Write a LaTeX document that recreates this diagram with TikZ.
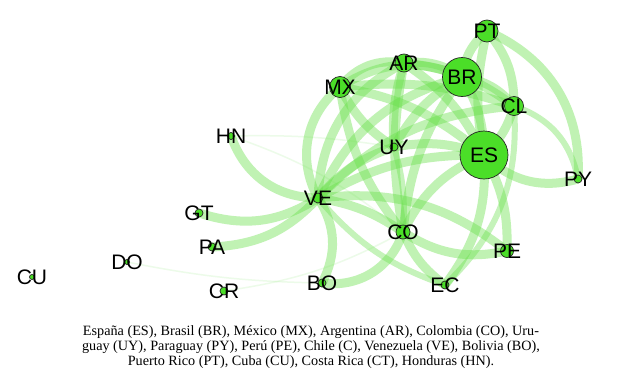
\documentclass[tikz,border=0pt]{standalone}
\usepackage{fontspec}
\setmainfont{Liberation Serif}
\newfontfamily\labfont{Liberation Sans}
\definecolor{nodegreen}{RGB}{75,222,40}
\definecolor{edgegreen}{RGB}{105,225,75}
\tikzset{
  country/.style={circle, draw=black!85, line width=0.7pt, fill=nodegreen, inner sep=0pt, minimum size=#1},
  lab/.style={font=\labfont\fontsize{21}{21}\selectfont, inner sep=0pt, text=black},
  edge/.style={draw=edgegreen, line width=9pt, opacity=0.42},
  thinedge/.style={draw=edgegreen, line width=6pt, opacity=0.38},
  faint/.style={draw=edgegreen, line width=1.5pt, opacity=0.12},
  caption/.style={font=\fontsize{14.2}{14.2}\selectfont, inner sep=0pt, anchor=base}
}
\begin{document}
\begin{tikzpicture}[x=1pt,y=1pt]
\useasboundingbox (0,0) rectangle (620,-375);
\fill[white] (0,0) rectangle (620,-375);
% positions
\coordinate (PT) at (487,-31);
\coordinate (AR) at (404,-63);
\coordinate (BR) at (462,-77);
\coordinate (MX) at (340,-87);
\coordinate (CL) at (514,-106);
\coordinate (UY) at (394,-147);
\coordinate (ES) at (484,-155);
\coordinate (PY) at (578,-179);
\coordinate (HN) at (231,-136);
\coordinate (VE) at (318,-198);
\coordinate (GT) at (199,-213);
\coordinate (PA) at (212,-247);
\coordinate (CO) at (403,-232);
\coordinate (PE) at (507,-251);
\coordinate (DO) at (127,-262);
\coordinate (CU) at (32,-277);
\coordinate (CR) at (224,-291);
\coordinate (BO) at (322,-283);
\coordinate (EC) at (445,-285);
% faint edges
\draw[faint] (HN) to[bend left=5] (UY);
\draw[faint] (DO) to[bend right=5] (BO);
\draw[faint] (CR) to[bend right=10] (CO);
\draw[faint] (HN) to[bend left=10] (CO);
% edges from VE
\draw[edge] (HN) to[bend right=35] (VE);
\draw[edge] (GT) to[bend right=25] (VE);
\draw[edge] (PA) to[bend right=22] (VE);
\draw[edge] (VE) to[bend left=30] (BO);
\draw[edge] (VE) to[bend left=40] (MX);
\draw[edge] (VE) to[bend left=30] (AR);
\draw[edge] (VE) to[bend left=25] (BR);
\draw[edge] (VE) to[bend left=20] (CL);
\draw[edge] (VE) to[bend left=15] (ES);
\draw[edge] (VE) to[bend left=15] (UY);
\draw[edge] (VE) to[bend left=12] (CO);
\draw[edge] (VE) to[bend left=22] (PE);
\draw[thinedge] (VE) to[bend right=15] (EC);
% bottom
\draw[edge] (BO) to[bend right=40] (CO);
\draw[edge] (CO) to[bend right=15] (EC);
\draw[edge] (CO) to[bend right=22] (PE);
\draw[edge] (EC) to[bend right=20] (ES);
\draw[edge] (PE) to[bend right=15] (ES);
\draw[thinedge] (EC) to[bend right=25] (CL);
\draw[edge] (CO) to[bend left=20] (ES);
\draw[edge] (CO) to[bend left=15] (MX);
\draw[edge] (CO) to[bend left=10] (AR);
\draw[edge] (CO) to[bend left=15] (BR);
\draw[thinedge] (CO) to[bend right=10] (UY);
% top cluster
\draw[edge] (MX) to[bend left=30] (AR);
\draw[edge] (MX) to[bend left=28] (BR);
\draw[edge] (MX) to[bend left=12] (CL);
\draw[edge] (MX) to[bend left=15] (ES);
\draw[edge] (MX) to[bend right=15] (UY);
\draw[edge] (AR) to[bend left=20] (BR);
\draw[edge] (AR) to[bend left=15] (CL);
\draw[edge] (AR) to[bend left=15] (ES);
\draw[edge] (AR) to[bend right=10] (UY);
\draw[edge] (BR) to[bend left=20] (CL);
\draw[edge] (BR) to[bend left=15] (ES);
\draw[edge] (BR) to[bend right=15] (UY);
\draw[edge] (CL) to[bend left=15] (ES);
\draw[edge] (UY) to[bend left=15] (ES);
\draw[edge] (PT) to[bend right=20] (BR);
\draw[edge] (PT) to[bend left=20] (CL);
\draw[edge] (PT) to[bend right=12] (ES);
\draw[edge] (PT) to[bend left=35] (PY);
\draw[edge] (ES) to[bend right=30] (PY);
\draw[thinedge] (CL) to[bend left=30] (PY);
% nodes
\node[country=48pt] (ESc) at (ES) {};
\node[country=39pt] (BRc) at (BR) {};
\node[country=22pt] (PTc) at (PT) {};
\node[country=18pt] (ARc) at (AR) {};
\node[country=21pt] (MXc) at (MX) {};
\node[country=19pt] (CLc) at (CL) {};
\node[country=8pt] (UYc) at (UY) {};
\node[country=8pt] (PYc) at (PY) {};
\node[country=7pt] (HNc) at (HN) {};
\node[country=10pt] (VEc) at (VE) {};
\node[country=8pt] (GTc) at (GT) {};
\node[country=8pt] (PAc) at (PA) {};
\node[country=14pt] (COc) at (CO) {};
\node[country=13pt] (PEc) at (PE) {};
\node[country=5pt] (DOc) at (DO) {};
\node[country=5pt] (CUc) at (CU) {};
\node[country=8pt] (CRc) at (CR) {};
\node[country=8pt] (BOc) at (BO) {};
\node[country=8pt] (ECc) at (EC) {};
% labels
\node[lab] (ESt) at (ES) {ES};
\node[lab] (BRt) at (BR) {BR};
\node[lab] (PTt) at (PT) {PT};
\node[lab] (ARt) at (AR) {AR};
\node[lab] (MXt) at (MX) {MX};
\node[lab] (CLt) at (CL) {CL};
\node[lab] (UYt) at (UY) {UY};
\node[lab] (PYt) at (PY) {PY};
\node[lab] (HNt) at (HN) {HN};
\node[lab] (VEt) at (VE) {VE};
\node[lab] (GTt) at (GT) {GT};
\node[lab] (PAt) at (PA) {PA};
\node[lab] (COt) at (CO) {CO};
\node[lab] (PEt) at (PE) {PE};
\node[lab] (DOt) at (DO) {DO};
\node[lab] (CUt) at (CU) {CU};
\node[lab] (CRt) at (CR) {CR};
\node[lab] (BOt) at (BO) {BO};
\node[lab] (ECt) at (EC) {EC};
% caption
\node[caption] (cap1) at (311,-335) {España (ES), Brasil (BR), México (MX), Argentina (AR), Colombia (CO), Uru-};
\node[caption] (cap2) at (311,-350) {guay (UY), Paraguay (PY), Perú (PE), Chile (C), Venezuela (VE), Bolivia (BO),};
\node[caption] (cap3) at (311,-365) {Puerto Rico (PT), Cuba (CU), Costa Rica (CT), Honduras (HN).};
\end{tikzpicture}
\end{document}
